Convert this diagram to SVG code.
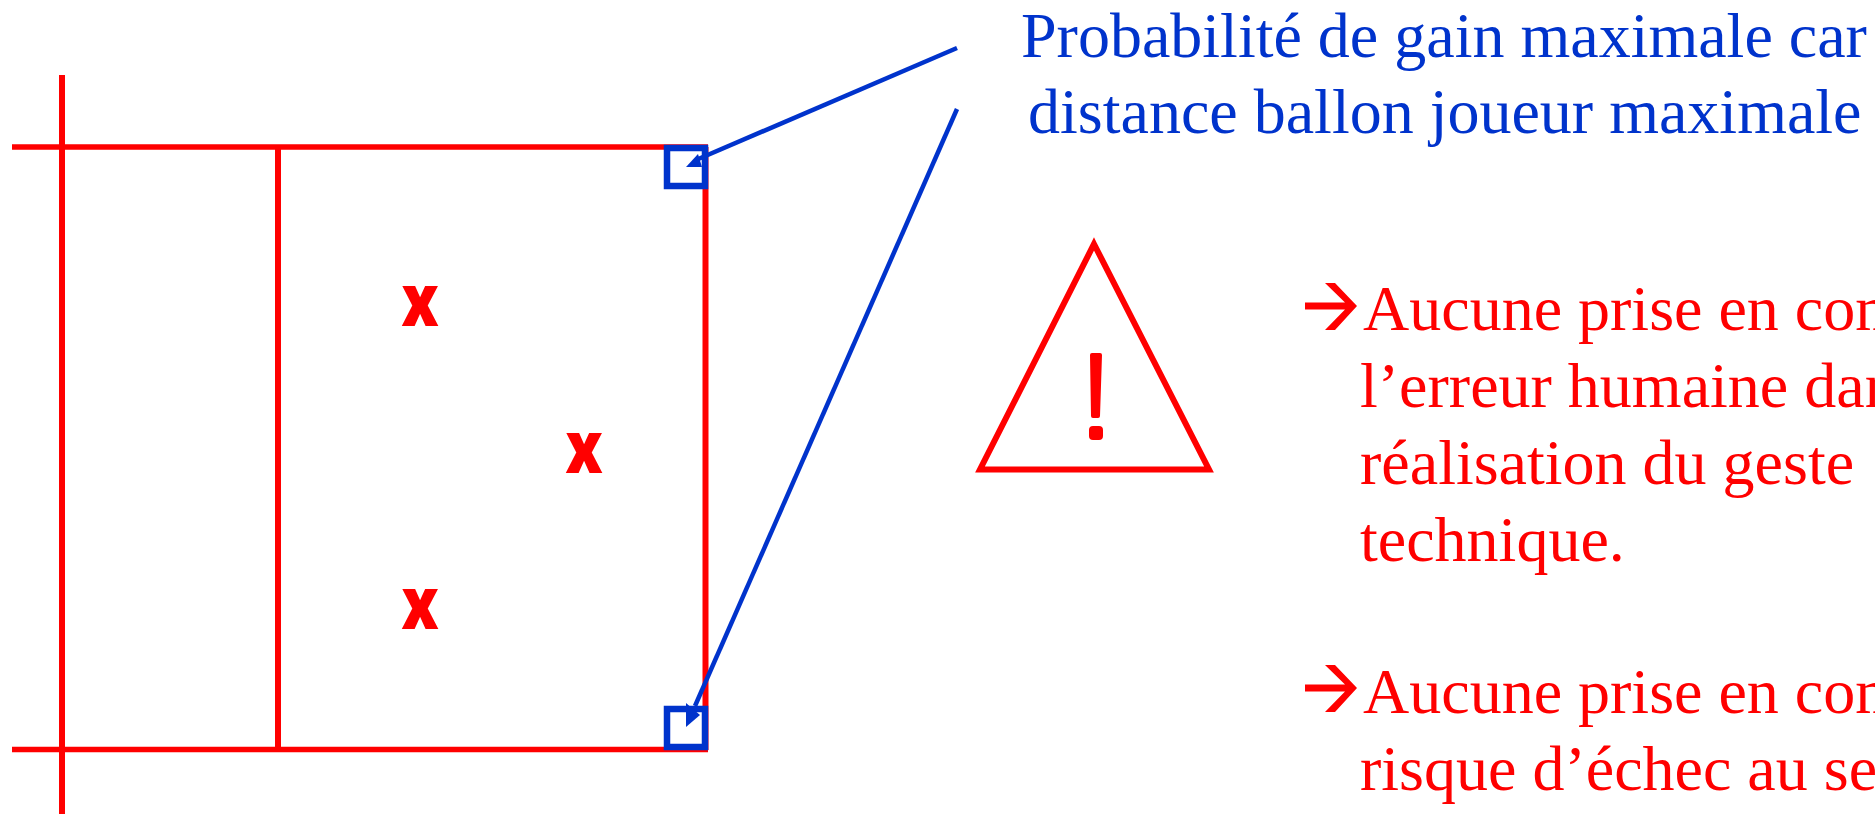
<svg xmlns="http://www.w3.org/2000/svg" width="1875" height="814" viewBox="0 0 1875 814">
<style>
.court{fill:none;stroke:#f00;stroke-width:6}
.thin{stroke-width:5.5}
.blue{fill:none;stroke:#0033cc;stroke-width:4.5}
.box{fill:none;stroke:#0033cc;stroke-width:6.5}
.head{fill:#0033cc}
.t{font-family:"Liberation Serif","Times New Roman",serif;font-size:64px}
.b{fill:#0033cc}.r{fill:#f00}
.x{font-family:"Open Sans","DejaVu Sans",sans-serif;font-weight:800;font-size:59px;fill:#f00;text-anchor:middle}
</style>
<rect width="1875" height="814" fill="#fff"/>
<g id="court">
<path class="court" d="M62 75V814M278 147V750M705.5 147V750"/>
<path class="court thin" d="M12 147H708M12 749.5H708"/>
</g>
<g id="marks">
<text class="x" transform="translate(420,326) scale(1,1.24)">x</text>
<text class="x" transform="translate(584,473) scale(1,1.24)">x</text>
<text class="x" transform="translate(420,629) scale(1,1.24)">x</text>
</g>
<g id="corner-top"><rect class="box" x="667" y="148" width="38" height="38"/></g>
<g id="corner-bottom"><rect class="box" x="667" y="709" width="38" height="38"/></g>
<g id="connectors">
<path class="blue" d="M957 48L696 160"/>
<path class="blue" d="M957 109L695 706"/>
<polygon class="head" points="686,167 698,154 702,167"/>
<polygon class="head" points="686,727 686,703 700,715"/>
</g>
<g id="label-top">
<text class="t b" x="1021" y="57">Probabilité de gain maximale car</text>
<text class="t b" x="1028" y="133">distance ballon joueur maximale</text>
</g>
<g id="warning">
<polygon points="1094,244 1209,469.5 980,469.5" fill="none" stroke="#f00" stroke-width="6"/>
<path class="r" d="M1090 355Q1090 353 1092 353H1100Q1102 353 1102 355L1100 416Q1100 418 1098 418H1093Q1091 418 1091 416ZM1093 426H1099Q1103 426 1103 430V436Q1103 440 1099 440H1093Q1089 440 1089 436V430Q1089 426 1093 426Z"/>
</g>
<g id="label-risks">
<polygon class="r" points="1325,283 1335,283 1357,306 1335,330 1325,330 1345,309.5 1305,309.5 1305,302.5 1345,302.5"/>
<text class="t r" x="1363" y="330">Aucune prise en com</text>
<text class="t r" x="1360" y="407">l’erreur humaine dans</text>
<text class="t r" x="1360" y="484">réalisation du geste</text>
<text class="t r" x="1360" y="561">technique.</text>
<polygon class="r" points="1325,665 1335,665 1357,688 1335,712 1325,712 1345,691.5 1305,691.5 1305,684.5 1345,684.5"/>
<text class="t r" x="1363" y="713">Aucune prise en com</text>
<text class="t r" x="1360" y="790">risque d’échec au ser</text>
</g>
</svg>
